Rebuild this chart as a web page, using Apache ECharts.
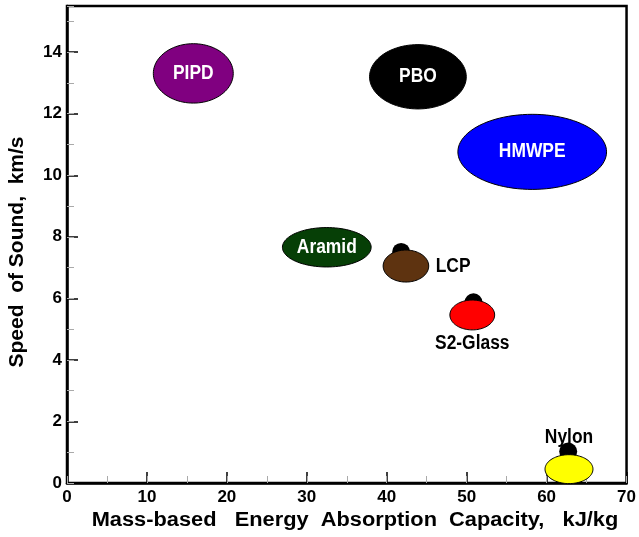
<!DOCTYPE html>
<html><head><meta charset="utf-8">
<script src="https://cdn.jsdelivr.net/npm/echarts@6/dist/echarts.min.js"></script>
<style>html,body{margin:0;padding:0;background:#fff}#c{width:639px;height:537px}</style>
</head><body><div id="c"></div>
<script>
// ---- data ----
const materials = ['PIPD', 'PBO', 'HMWPE', 'Aramid', 'LCP', 'S2-Glass', 'Nylon'];
const energy = [15.8, 43.9, 58.2, 32.5, 42.4, 50.7, 62.8];       // kJ/kg (centre)
const speed = [13.31, 13.20, 10.76, 7.66, 7.05, 5.46, 0.45];      // km/s (centre)
const energyRange = [10.0, 12.1, 18.6, 11.1, 5.7, 5.6, 6.0];      // kJ/kg (ellipse width)
const speedRange = [1.93, 2.09, 2.44, 1.28, 1.04, 0.97, 0.94];    // km/s (ellipse height)
const pointNames = ['LCP', 'S2-Glass', 'Nylon'];
const pointEnergy = [41.8, 50.85, 62.7];
const pointSpeed = [7.51, 5.87, 1.02];
const xTicks = [0, 10, 20, 30, 40, 50, 60, 70];
const yTicks = [0, 2, 4, 6, 8, 10, 12, 14];
const xTitle = 'Mass-based   Energy  Absorption  Capacity,   kJ/kg';
const yTitle = 'Speed  of Sound,  km/s';

// ---- styles ----
const fills = ['#800080', '#000000', '#0000ff', '#063f06', '#5e3310', '#ff0000', '#ffff00'];
const labelPlace = ['inside', 'inside', 'inside', 'inside', 'right', 'bottom', 'top'];
const FONT = '"Liberation Sans", Arial, sans-serif';

const chart = echarts.init(document.getElementById('c'), null, {renderer: 'canvas'});

const ellData = materials.map((m, i) => [energy[i], speed[i], energyRange[i], speedRange[i], i]);

function renderEllipse(params, api) {
  const i = api.value(4);
  const c = api.coord([api.value(0), api.value(1)]);
  const sz = api.size([api.value(2), api.value(3)]);
  const rx = sz[0] / 2, ry = sz[1] / 2;
  const pts = [];
  for (let k = 0; k < 96; k++) {
    const t = k / 96 * Math.PI * 2;
    pts.push([c[0] + rx * Math.cos(t), c[1] + ry * Math.sin(t)]);
  }
  const place = labelPlace[i];
  let tx = c[0], ty = c[1], align = 'center', vAlign = 'middle', fill = '#fff';
  if (place === 'right') { tx = c[0] + rx + 7; align = 'left'; fill = '#000'; }
  if (place === 'bottom') { ty = c[1] + ry + 4; vAlign = 'top'; fill = '#000'; }
  if (place === 'top') { ty = c[1] - ry - 7; vAlign = 'bottom'; fill = '#000'; }
  return {
    type: 'group',
    children: [
      { type: 'polygon', shape: { points: pts },
        style: { fill: fills[i], stroke: '#000', lineWidth: 1 } },
      { type: 'text', z2: 10, x: tx, y: ty, scaleX: 0.87,
        style: { x: 0, y: 0, text: materials[i], fill: fill,
          font: 'bold 20px ' + FONT, textAlign: align, textVerticalAlign: vAlign } }
    ]
  };
}

const option = {
  animation: false,
  backgroundColor: '#fff',
  grid: { left: 67, right: 9, top: 6, bottom: 54, show: true, borderColor: '#000', borderWidth: 2.5, backgroundColor: 'transparent' },
  xAxis: [
    { type: 'value', min: xTicks[0], max: xTicks[xTicks.length - 1], interval: 10,
      axisLine: { lineStyle: { color: '#000', width: 2.5 } },
      axisTick: { inside: true, length: 11, lineStyle: { color: '#000', width: 1.5 } },
      splitLine: { show: false },
      axisLabel: { color: '#000', fontFamily: FONT, fontWeight: 'bold', fontSize: 17, margin: 6 } },
    { type: 'value', min: 0, max: 70, interval: 5, position: 'bottom', gridIndex: 0,
      axisLine: { show: false }, axisLabel: { show: false }, splitLine: { show: false },
      axisTick: { inside: true, length: 7, lineStyle: { color: '#aaa', width: 1 } } }
  ],
  yAxis: [
    { type: 'value', min: 0, max: 15.5, interval: 2,
      axisLine: { lineStyle: { color: '#000', width: 2.5 } },
      axisTick: { inside: true, length: 11, lineStyle: { color: '#000', width: 1.5 } },
      splitLine: { show: false },
      axisLabel: { color: '#000', fontFamily: FONT, fontWeight: 'bold', fontSize: 17, margin: 5,
        formatter: v => (yTicks.indexOf(v) >= 0 ? String(v) : '') } },
    { type: 'value', min: 0, max: 15.5, interval: 1, position: 'left',
      axisLine: { show: false }, axisLabel: { show: false }, splitLine: { show: false },
      axisTick: { inside: true, length: 7, lineStyle: { color: '#aaa', width: 1 } } }
  ],
  graphic: [
    { type: 'text', x: 355, y: 520, scaleX: 1.09,
      style: { text: xTitle, font: 'bold 20px ' + FONT, fill: '#000', textAlign: 'center', textVerticalAlign: 'middle' } },
    { type: 'text', x: 17, y: 252, rotation: Math.PI / 2, scaleX: 1.05,
      style: { text: yTitle, font: 'bold 20px ' + FONT, fill: '#000', textAlign: 'center', textVerticalAlign: 'middle' } }
  ],
  series: [
    { type: 'scatter', name: 'points', xAxisIndex: 0, yAxisIndex: 0, z: 2,
      symbol: 'circle', symbolSize: 18,
      itemStyle: { color: '#000', opacity: 1 },
      data: pointNames.map((n, i) => [pointEnergy[i], pointSpeed[i]]) },
    { type: 'custom', name: 'materials', xAxisIndex: 0, yAxisIndex: 0, z: 3,
      renderItem: renderEllipse, data: ellData }
  ]
};
chart.setOption(option);
</script>
</body></html>
